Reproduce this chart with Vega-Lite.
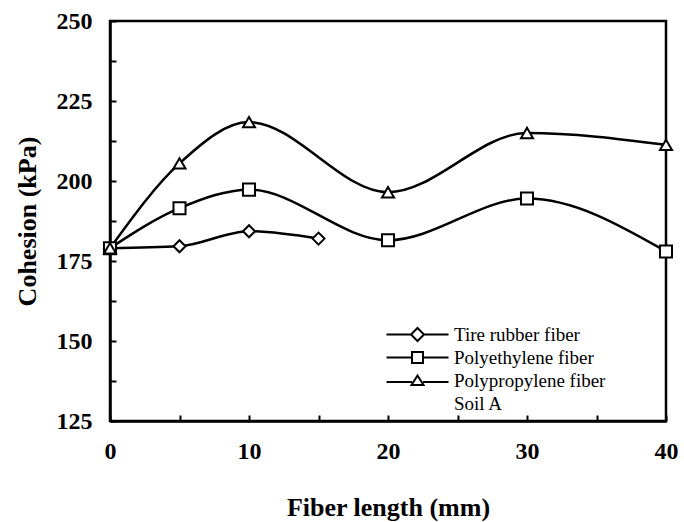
{
  "$schema": "https://vega.github.io/schema/vega-lite/v6.json",
  "autosize": {"type": "none"},
  "padding": {"left": 110, "top": 21, "right": 18, "bottom": 101},
  "width": 556,
  "height": 400,
  "background": "white",
  "config": {
    "view": {"stroke": "black", "strokeWidth": 2.5},
    "axis": {
      "domainColor": "black", "domainWidth": 2.5,
      "tickColor": "black", "tickWidth": 2, "tickSize": -6,
      "grid": false, "labelFlush": false,
      "labelFont": "Liberation Serif", "labelFontSize": 24, "labelFontWeight": "bold", "labelColor": "black",
      "titleFont": "Liberation Serif", "titleFontSize": 26, "titleFontWeight": "bold", "titleColor": "black"
    },
    "legend": {"labelFont": "Liberation Serif", "labelFontSize": 19, "labelColor": "black"}
  },
  "data": {
    "values": [
      {"series": "Tire rubber fiber", "x": 0, "y": 179},
      {"series": "Tire rubber fiber", "x": 5, "y": 179.6},
      {"series": "Tire rubber fiber", "x": 10, "y": 184.3},
      {"series": "Tire rubber fiber", "x": 15, "y": 182},
      {"series": "Polyethylene fiber", "x": 0, "y": 179},
      {"series": "Polyethylene fiber", "x": 5, "y": 191.5},
      {"series": "Polyethylene fiber", "x": 10, "y": 197.3},
      {"series": "Polyethylene fiber", "x": 20, "y": 181.5},
      {"series": "Polyethylene fiber", "x": 30, "y": 194.5},
      {"series": "Polyethylene fiber", "x": 40, "y": 178},
      {"series": "Polypropylene fiber", "x": 0, "y": 179},
      {"series": "Polypropylene fiber", "x": 5, "y": 205.5},
      {"series": "Polypropylene fiber", "x": 10, "y": 218.4},
      {"series": "Polypropylene fiber", "x": 20, "y": 196.5},
      {"series": "Polypropylene fiber", "x": 30, "y": 215},
      {"series": "Polypropylene fiber", "x": 40, "y": 211.3}
    ]
  },
  "encoding": {
    "x": {"field": "x", "type": "quantitative",
      "scale": {"domain": [0, 40], "nice": false, "zero": false},
      "axis": {"values": [0, 5, 10, 15, 20, 25, 30, 35, 40], "labelExpr": "datum.value % 10 == 0 ? datum.label : ''", "labelPadding": 24, "title": "Fiber length (mm)", "titlePadding": 31}},
    "y": {"field": "y", "type": "quantitative",
      "scale": {"domain": [125, 250], "nice": false, "zero": false},
      "axis": {"values": [125, 137.5, 150, 162.5, 175, 187.5, 200, 212.5, 225, 237.5, 250], "labelExpr": "datum.value % 25 == 0 ? datum.label : ''", "labelPadding": 24, "title": "Cohesion (kPa)", "titlePadding": 16}}
  },
  "layer": [
    {
      "mark": {"type": "line", "interpolate": "monotone", "stroke": "black", "strokeWidth": 2.5},
      "encoding": {"detail": {"field": "series"}}
    },
    {
      "mark": {"type": "point", "filled": false, "fill": "white", "fillOpacity": 1, "stroke": "black", "strokeWidth": 2, "opacity": 1, "size": 145},
      "encoding": {
        "shape": {"field": "series", "type": "nominal",
          "scale": {"domain": ["Tire rubber fiber", "Polyethylene fiber", "Polypropylene fiber"], "range": ["diamond", "square", "triangle-up"]},
          "legend": null}
      }
    },
    {
      "mark": {"type": "point", "filled": false, "opacity": 0, "stroke": "black", "strokeWidth": 2, "size": 100},
      "encoding": {
        "shape": {"field": "series", "type": "nominal",
          "scale": {"domain": ["Tire rubber fiber", "Polyethylene fiber", "Polypropylene fiber", "Soil A"],
            "range": [
              "M-6.2,0H-1.3M1.3,0H6.2M0,-1.3L1.3,0L0,1.3L-1.3,0Z",
              "M-6.2,0H-1.1M1.1,0H6.2M-1.1,-1.1H1.1V1.1H-1.1Z",
              "M-6.2,0.3H-1.1M1.1,0.3H6.2M0,-1L1.2,0.9H-1.2Z",
              "M0,0"
            ]},
          "legend": {"title": null, "orient": "none", "legendX": 298, "legendY": 304, "padding": 0,
            "symbolSize": 100, "symbolOpacity": 1, "symbolFillColor": "white", "symbolStrokeColor": "black", "symbolStrokeWidth": 2,
            "labelOffset": 27, "rowPadding": 3}}
      }
    }
  ],
  "resolve": {"scale": {"shape": "independent"}}
}
